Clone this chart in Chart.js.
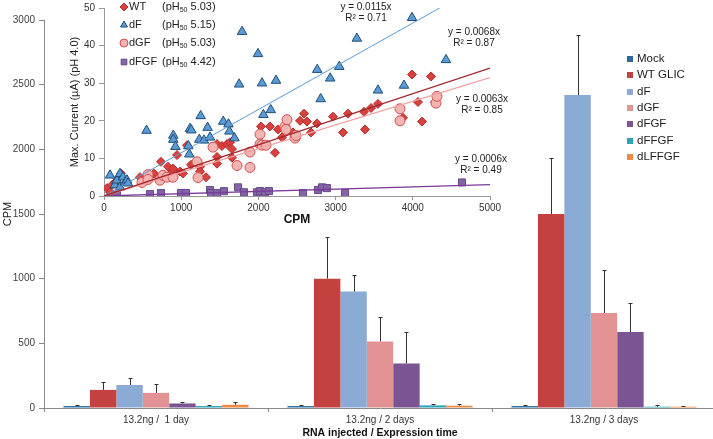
<!DOCTYPE html>
<html>
<head>
<meta charset="utf-8">
<script src="https://cdn.jsdelivr.net/npm/chart.js@4.4.0/dist/chart.umd.min.js"></script>
<style>
  html, body { margin: 0; padding: 0; background: #fff; overflow: hidden; width: 713px; height: 439px; }
  #wrap { position: relative; width: 713px; height: 439px; }
  #cpmChart { position: absolute; left: 0; top: 0; }
  #insetChart { position: absolute; left: 60px; top: -2px; }
</style>
</head>
<body>
<div id="wrap">
  <canvas id="cpmChart" width="720" height="439"></canvas>
  <canvas id="insetChart" width="450" height="230"></canvas>
</div>
<script>
// bar chart: CPM per construct
var groups = ['13.2ng /  1 day', '13.2ng / 2 days', '13.2ng / 3 days'];
var constructs = ['Mock', 'WT GLIC', 'dF', 'dGF', 'dFGF', 'dFFGF', 'dLFFGF'];
var barColors = ['#286c9f', '#c3423f', '#8aabd4', '#e39393', '#7b5593', '#2ba2b6', '#ee8a45'];

var mockCpm = [15, 15, 15];
var wtCpm = [140, 1000, 1500];
var dFCpm = [178, 900, 2420];
var dGFCpm = [117, 515, 735];
var dFGFCpm = [35, 345, 588];
var dFFGFCpm = [15, 20, 10];
var dLFFGFCpm = [25, 18, 10];

var mockErr = [12, 10, 10];
var wtErr = [60, 320, 430];
var dFErr = [52, 130, 465];
var dGFErr = [68, 190, 332];
var dFGFErr = [10, 240, 224];
var dFFGFErr = [10, 10, 10];
var dLFFGFErr = [20, 12, 8];

// inset: current vs CPM
var wtX = [39, 78, 104, 142, 181, 220, 466, 648, 738, 829, 855, 894, 946, 985, 1023, 1075, 1127, 1205, 1244, 1244, 1321,
  1464, 1464, 1464, 1528, 1593, 1632, 1658, 1658, 2034, 2150, 2215, 2254, 2306, 2448, 2539, 2591, 2630, 2681, 2759,
  2966, 3096, 3161, 3368, 3381, 3459, 3549, 3873, 3990, 4067, 4119, 4236, 4288];
var wtY = [2.1, 1.0, 2.9, 3.6, 4.7, 6.0, 5.0, 6.0, 9.1, 7.8, 5.7, 7.3, 10.9, 6.5, 6.0, 13.5, 8.3, 8.6, 7.8, 6.5, 5.0,
  13.8, 10.4, 8.6, 13.3, 13.8, 14.3, 12.5, 10.2, 18.5, 18.5, 11.5, 17.7, 15.6, 16.9, 20.0, 21.9, 19.8, 16.9, 19.3,
  21.1, 16.9, 21.9, 22.4, 17.7, 23.4, 24.5, 20.8, 32.3, 25.0, 19.8, 31.8, 25.0];

var dFX = [78, 142, 168, 207, 207, 246, 272, 298, 311, 551, 898, 898, 925, 1092, 1105, 1114, 1131, 1235, 1252, 1295,
  1342, 1373, 1545, 1612, 1624, 1690, 1750, 1788, 1995, 2047, 2065, 2160, 2228, 2762, 2807, 2930, 3048, 3275, 3549,
  3886, 3990, 4430];
var dFY = [5.5, 2.9, 4.2, 5.9, 2.3, 5.0, 3.6, 4.2, 3.4, 17.4, 16.1, 15.0, 13.1, 13.3, 11.1, 17.9, 17.5, 15.0, 21.3, 14.8,
  18.2, 15.6, 19.8, 19.1, 17.2, 15.4, 29.7, 43.7, 37.8, 30.0, 21.6, 22.9, 30.7, 33.6, 25.8, 31.3, 34.4, 41.9, 28.1,
  29.4, 47.4, 36.2];

var dGFX = [492, 570, 570, 725, 764, 816, 894, 1205, 1218, 1412, 1723, 1891, 1891, 2021, 2021, 2047, 2098, 2344, 2357,
  2370, 2474, 2487, 3834, 3834, 4300, 4313];
var dGFY = [3.6, 5.7, 4.4, 4.2, 5.5, 5.0, 5.0, 9.1, 4.9, 13.0, 8.1, 11.7, 7.6, 16.4, 13.8, 13.5, 13.5, 18.5, 17.7,
  20.3, 15.4, 16.1, 23.2, 20.0, 24.7, 26.5];

var dFGFX = [168, 596, 738, 997, 1062, 1373, 1386, 1464, 1554, 1736, 1813, 1982, 2021, 2085, 2137, 2578, 2772, 2824,
  2889, 3122, 4637];
var dFGFY = [0.3, 0.5, 0.8, 0.8, 0.8, 1.6, 0.8, 0.8, 1.3, 2.3, 1.0, 1.0, 1.3, 1.0, 1.3, 0.8, 1.6, 2.3, 2.1, 0.8, 3.6];

var seriesNames = ['WT', 'dF', 'dGF', 'dFGF'];
var ph50 = ['5.03', '5.15', '5.03', '4.42'];
var slopes = [0.0068, 0.0115, 0.0063, 0.0006];
var rSquared = ['0.87', '0.71', '0.85', '0.49'];

var FONT = "'Liberation Sans', Arial, sans-serif";
Chart.defaults.font.family = FONT;
Chart.defaults.color = '#404040';

function toPoints(xs, ys) {
  var pts = [];
  for (var i = 0; i < xs.length; i++) pts.push({ x: xs[i], y: ys[i] });
  return pts;
}

var cpmLists = [mockCpm, wtCpm, dFCpm, dGFCpm, dFGFCpm, dFFGFCpm, dLFFGFCpm];
var errLists = [mockErr, wtErr, dFErr, dGFErr, dFGFErr, dFFGFErr, dLFFGFErr];
var barDatasets = [];
for (var i = 0; i < constructs.length; i++) {
  barDatasets.push({
    label: constructs[i],
    data: cpmLists[i],
    errors: errLists[i],
    backgroundColor: barColors[i],
    borderWidth: 0,
    barPercentage: 1.0,
    categoryPercentage: 0.826
  });
}

const errorBars = {
  id: 'errorBars',
  afterDatasetsDraw(chart) {
    const ctx = chart.ctx;
    const yScale = chart.scales.y;
    ctx.save();
    ctx.strokeStyle = '#333';
    ctx.lineWidth = 1;
    chart.data.datasets.forEach(function(ds, i) {
      chart.getDatasetMeta(i).data.forEach(function(bar, j) {
        var x = Math.round(bar.x) + 0.5;
        var top = Math.round(yScale.getPixelForValue(ds.data[j] + ds.errors[j])) + 0.5;
        ctx.beginPath();
        ctx.moveTo(x, bar.y);
        ctx.lineTo(x, top);
        ctx.moveTo(x - 2, top);
        ctx.lineTo(x + 2, top);
        ctx.stroke();
      });
    });
    ctx.restore();
  }
};

const barLegend = {
  id: 'barLegend',
  afterDraw(chart) {
    const ctx = chart.ctx;
    ctx.save();
    ctx.font = '11.5px ' + FONT;
    ctx.textBaseline = 'middle';
    chart.data.datasets.forEach(function(ds, i) {
      var y = 59 + i * 16.3;
      ctx.fillStyle = ds.backgroundColor;
      ctx.fillRect(627, Math.round(y - 3), 6, 6);
      ctx.fillStyle = '#222';
      ctx.fillText(ds.label, 637, y);
    });
    ctx.restore();
  }
};

new Chart(document.getElementById('cpmChart'), {
  type: 'bar',
  data: { labels: groups, datasets: barDatasets },
  options: {
    responsive: false,
    animation: false,
    devicePixelRatio: 1,
    layout: { padding: { top: 20, right: 4, left: 0, bottom: 0 } },
    plugins: { legend: { display: false }, tooltip: { enabled: false } },
    scales: {
      x: {
        offset: true,
        grid: { display: true, offset: true, drawOnChartArea: false, tickLength: 4, color: '#888' },
        border: { color: '#888' },
        ticks: { font: { size: 10 }, padding: 2, color: '#333' },
        title: { display: true, text: 'RNA injected / Expression time', font: { size: 10.5, weight: 'bold' }, color: '#111', padding: 0 },
        afterFit: function(s) { s.height = 31; }
      },
      y: {
        min: 0, max: 3000,
        ticks: { stepSize: 500, font: { size: 10 }, padding: 4, color: '#404040', format: { useGrouping: false } },
        grid: { display: true, drawOnChartArea: false, tickLength: 5, color: '#888' },
        border: { color: '#888' },
        title: { display: true, text: 'CPM', font: { size: 11 }, color: '#222', padding: 1 },
        afterFit: function(s) { s.width = 44; }
      }
    }
  },
  plugins: [errorBars, barLegend]
});

// inset scatter
var pointStyles = ['rectRot', 'triangle', 'circle', 'rect'];
var pointRadii = [4.5, 5.5, 5, 5];
var pointFills = ['#d9413f', '#5b9bd5', '#f4b4b2', '#8464a6'];
var pointBorders = ['#b32f2d', '#1f4e79', '#d4504e', '#674a8a'];
var lineColors = ['#a3262a', '#5b9bd5', '#f1a3a3', '#7a3b9a'];
var xLists = [wtX, dFX, dGFX, dFGFX];
var yLists = [wtY, dFY, dGFY, dFGFY];

var insetDatasets = [];
for (var k = 0; k < seriesNames.length; k++) {
  insetDatasets.push({
    type: 'scatter',
    label: seriesNames[k],
    data: toPoints(xLists[k], yLists[k]),
    pointStyle: pointStyles[k],
    pointRadius: pointRadii[k],
    backgroundColor: pointFills[k],
    borderColor: pointBorders[k],
    borderWidth: 1,
    order: 10 - k
  });
}
for (var k = 0; k < slopes.length; k++) {
  insetDatasets.push({
    type: 'line',
    label: seriesNames[k] + ' fit',
    data: [{ x: 0, y: 0 }, { x: 5000, y: slopes[k] * 5000 }],
    borderColor: lineColors[k],
    borderWidth: k == 1 ? 1 : 1.3,
    pointRadius: 0,
    fill: false,
    order: 1
  });
}

var eqPos = [[474, 32], [366, 7], [482, 99], [481, 159]];

const insetText = {
  id: 'insetText',
  afterDraw(chart) {
    const ctx = chart.ctx;
    const ox = 60, oy = -2;
    ctx.save();
    // legend
    for (var k = 0; k < seriesNames.length; k++) {
      var y = [7, 25, 43, 62][k] - oy;
      ctx.fillStyle = pointFills[k];
      ctx.strokeStyle = pointBorders[k];
      ctx.lineWidth = 1;
      Chart.helpers.drawPoint(ctx, { pointStyle: pointStyles[k], radius: 4, rotation: 0, borderWidth: 1 }, 124 - ox, y);
      ctx.fillStyle = '#222';
      ctx.font = '11px ' + FONT;
      ctx.textBaseline = 'middle';
      ctx.textAlign = 'left';
      ctx.fillText(seriesNames[k], 129 - ox, y);
      ctx.fillText('(pH', 162 - ox, y);
      var w = ctx.measureText('(pH').width;
      ctx.font = '7px ' + FONT;
      ctx.fillText('50', 162 - ox + w, y + 3);
      var w2 = ctx.measureText('50').width;
      ctx.font = '11px ' + FONT;
      ctx.fillText(' ' + ph50[k] + ')', 162 - ox + w + w2, y);
    }
    // trendline equations
    ctx.font = '10px ' + FONT;
    ctx.textAlign = 'center';
    ctx.fillStyle = '#222';
    for (var k = 0; k < slopes.length; k++) {
      var p = eqPos[k];
      ctx.fillText('y = ' + slopes[k] + 'x', p[0] - ox, p[1] - oy);
      ctx.fillText('R\u00B2 = ' + rSquared[k], p[0] - ox, p[1] + 11 - oy);
    }
    ctx.restore();
  }
};

new Chart(document.getElementById('insetChart'), {
  type: 'scatter',
  data: { datasets: insetDatasets },
  options: {
    responsive: false,
    animation: false,
    devicePixelRatio: 1,
    layout: { padding: { top: 6, right: 20, left: 0, bottom: 0 } },
    plugins: { legend: { display: false }, tooltip: { enabled: false } },
    scales: {
      x: {
        type: 'linear', min: 0, max: 5000,
        ticks: { stepSize: 1000, font: { size: 10 }, padding: 2, color: '#333', format: { useGrouping: false } },
        grid: { display: true, drawOnChartArea: false, tickLength: 4, color: '#999' },
        border: { color: '#999' },
        title: { display: true, text: 'CPM', font: { size: 12, weight: 'bold' }, color: '#111', padding: 1 },
        afterFit: function(s) { s.height = 32; }
      },
      y: {
        min: 0, max: 50,
        ticks: { stepSize: 10, font: { size: 10 }, padding: 4, color: '#333' },
        grid: { display: true, drawOnChartArea: false, tickLength: 5, color: '#999' },
        border: { color: '#999' },
        title: { display: true, text: 'Max. Current (\u00B5A) (pH 4.0)', font: { size: 11 }, color: '#222', padding: 8 },
        afterFit: function(s) { s.width = 44; }
      }
    }
  },
  plugins: [insetText]
});
</script>
</body>
</html>
